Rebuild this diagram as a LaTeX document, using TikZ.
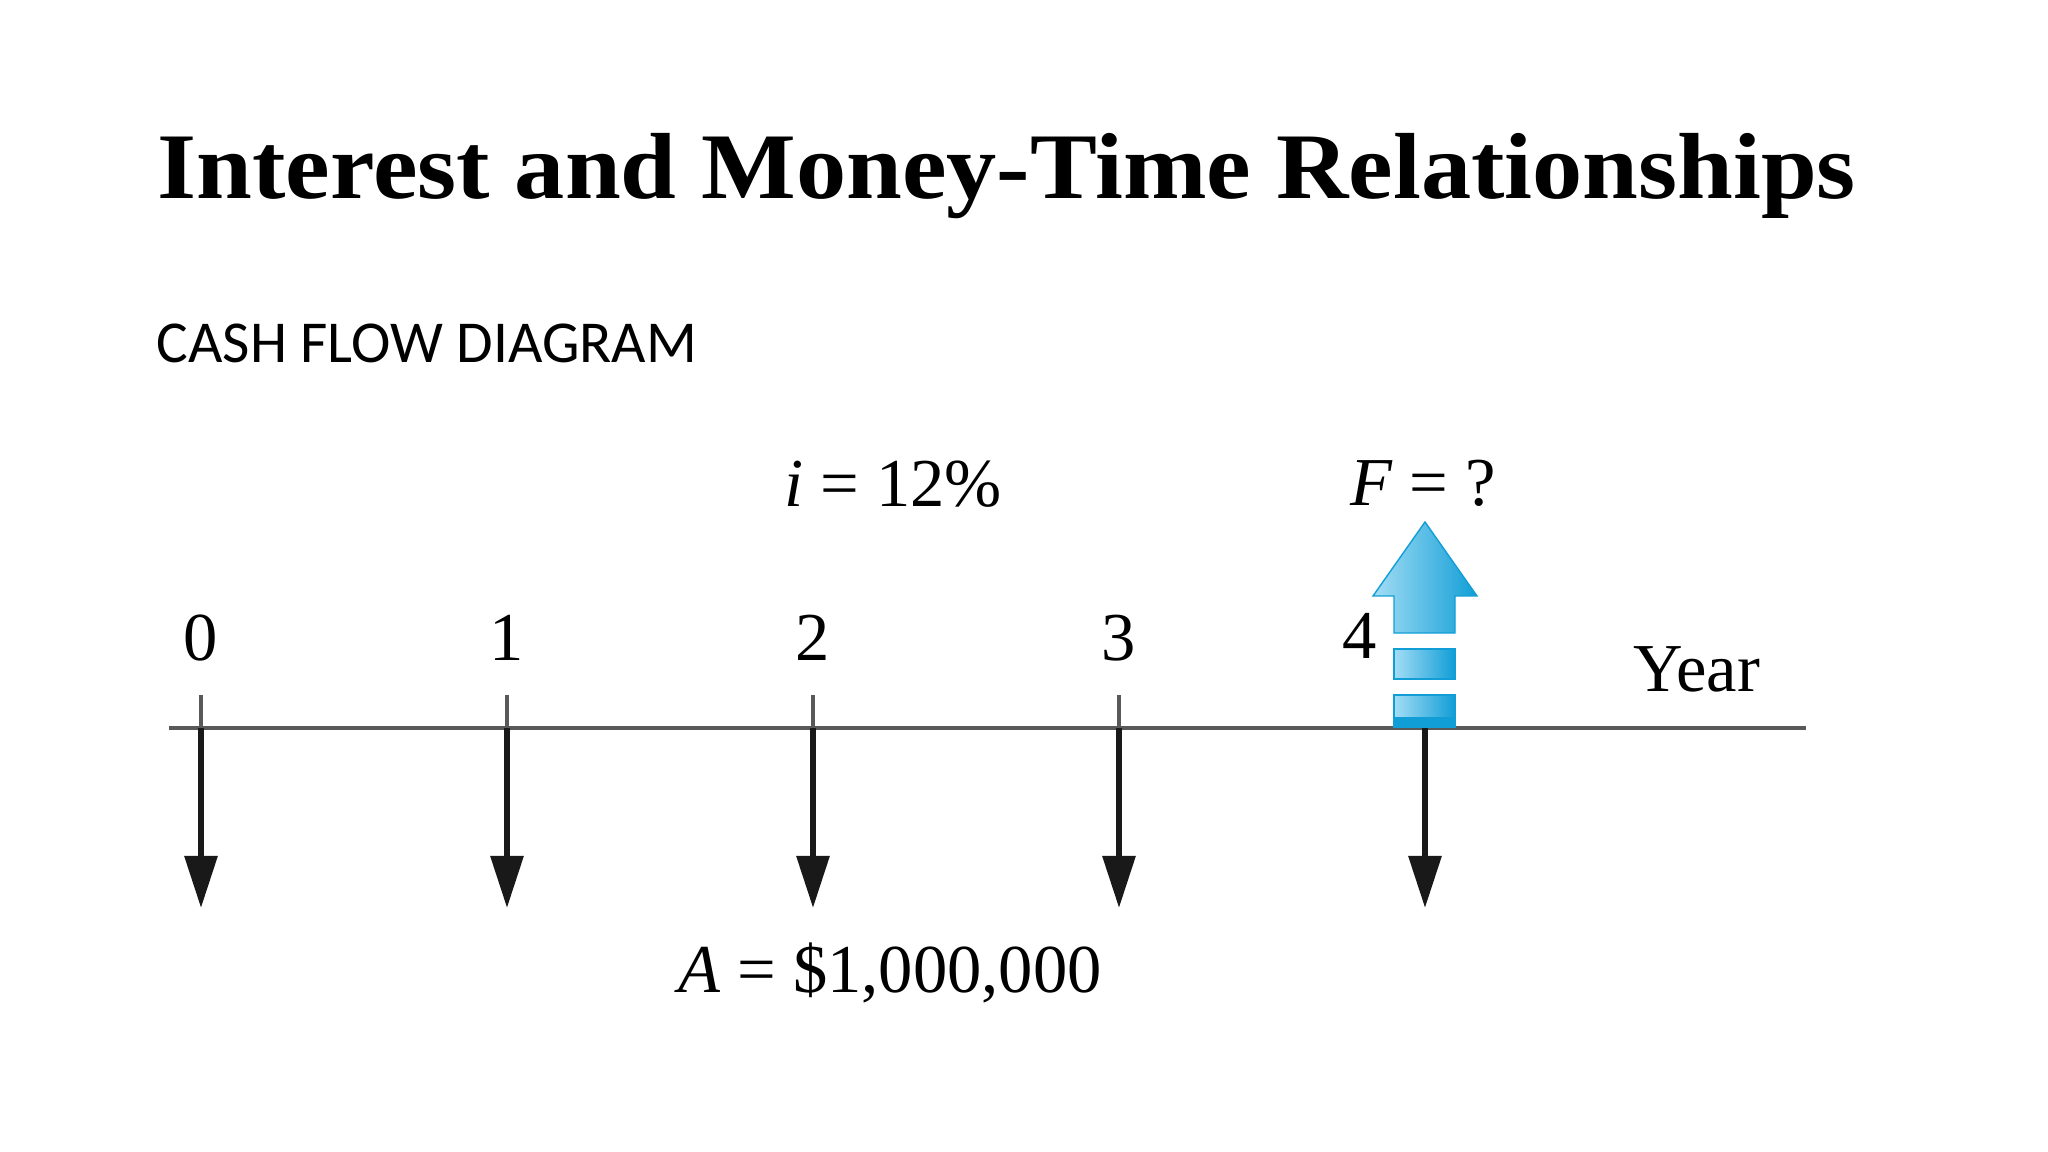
\documentclass[tikz,border=0pt]{standalone}
\usepackage{fontspec}
\setmainfont{Liberation Serif}
\newfontfamily\subfont{Carlito}
\newfontfamily\titlefont[FakeStretch=1.068]{Liberation Serif}
\usetikzlibrary{arrows.meta, positioning}
\definecolor{FlowLight}{HTML}{A3DDF5}
\definecolor{FlowDark}{HTML}{119ED6}

\begin{document}
\begin{tikzpicture}[x=0.01cm, y=-0.01cm]
		\tikzstyle{Label} = [font=\fontsize{19.5}{22}\selectfont, inner sep=0pt, anchor=base]
		\tikzstyle{flow} = [line width=1.7pt, black!90, -{Triangle[length=0.52cm, width=0.32cm]}]
		\tikzstyle{tick} = [line width=1.2pt, black!65]
		\tikzstyle{Up} = [left color=FlowLight, right color=FlowDark, draw=FlowDark, line width=0.4pt]
		
		\useasboundingbox (0,0) rectangle (2048,1152);
		
		\node (title) [anchor=base west, inner sep=0pt, font=\titlefont\bfseries\fontsize{26.7}{30}\selectfont] at (157,199) {Interest and Money-Time Relationships};
		\node (sub) [anchor=base west, inner sep=0pt, font=\subfont\fontsize{16.9}{19}\selectfont] at (156,363) {CASH FLOW DIAGRAM};
		
		% time axis
		\coordinate (start) at (169,728);
		\coordinate (end) at (1806,728);
		\draw [tick] (start) -- (end);
		
		\foreach \n in {0,...,4} {
			\coordinate (top\n) at (201+306*\n,695);
			\coordinate (axis\n) at (201+306*\n,728);
			\coordinate (low\n) at (201+306*\n,908);
			\draw [tick] (top\n) -- (axis\n);
			\draw [flow] (axis\n) -- (low\n);
		}
		\foreach \n in {0,...,3}
			\node (year\n) [Label] at (201+306*\n,660) {\n};
		\node (year4) [Label] at (1360,658) {4};
		
		% receipt at the end of year 4
		\shade [Up] (1394,727) rectangle (1455,695);
		\shade [Up] (1394,679) rectangle (1455,649);
		\shade [Up] (1394,633) -- (1394,596) -- (1373,596) -- (1425,522) -- (1477,596) -- (1455,596) -- (1455,633) -- cycle;
		\fill [FlowDark] (1394,727) rectangle (1455,717);
		
		\node (rate) [Label] at (893,507) {\textit{i} = 12\%};
		\node (future) [Label] at (1423,505) {\textit{F} = ?};
		\node (annual) [Label] at (890,992) {\textit{A} = \$1,000,000};
		\node (unit) [Label] at (1697,691) {Year};
\end{tikzpicture}
\end{document}
